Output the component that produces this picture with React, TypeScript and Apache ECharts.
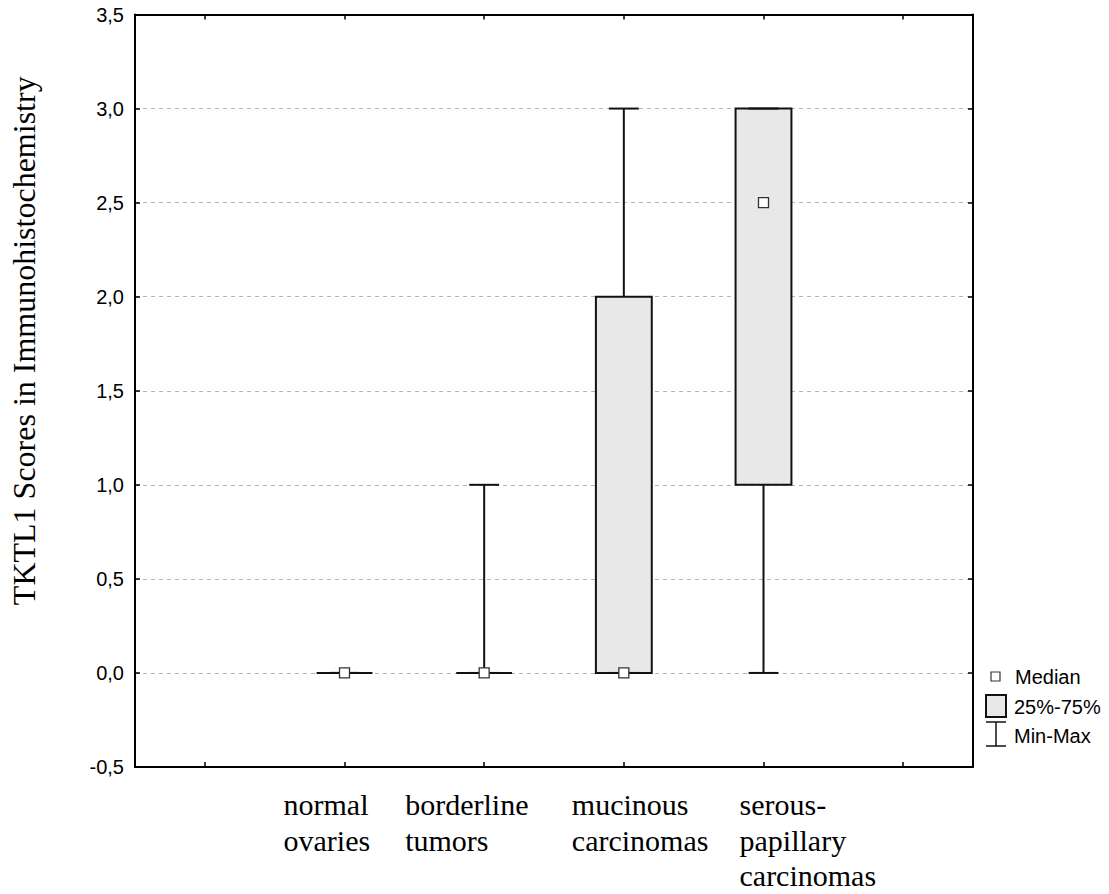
import React, { useEffect, useRef } from "react";
import * as echarts from "echarts";

// ---- data ----
const categories = ["", "normal\novaries", "borderline\ntumors", "mucinous\ncarcinomas", "serous-\npapillary\ncarcinomas", ""];
const groupIndex = [1, 2, 3, 4];
const minValues = [0, 0, 0, 0];
const q1Values = [0, 0, 0, 1];
const medianValues = [0, 0, 0, 2.5];
const q3Values = [0, 0, 2, 3];
const maxValues = [0, 1, 3, 3];
const yMin = -0.5;
const yMax = 3.5;
const yStep = 0.5;
const legendLabels = ["Median", "25%-75%", "Min-Max"];
const yTitle = "TKTL1 Scores in Immunohistochemistry";

// label block widths (layout) per category key
const richKeys = ["e0", "c1", "c2", "c3", "c4", "e5"];
const richWidths = [10, 122, 158, 104, 48, 10];

export default function App() {
  const ref = useRef<HTMLDivElement>(null);
  useEffect(() => {
    if (!ref.current) return;
    const chart = echarts.init(ref.current, null, { renderer: "svg" });
    const boxData = groupIndex.map((g, i) => [g, minValues[i], q1Values[i], medianValues[i], q3Values[i], maxValues[i]]);

    const rich: any = {};
    richKeys.forEach((k, i) => {
      rich[k] = {
        width: richWidths[i],
        align: "left",
        fontFamily: "Liberation Serif",
        fontSize: 30,
        lineHeight: 35.5,
        color: "#000",
      };
    });

    const serif = "Liberation Serif";
    const sans = "Liberation Sans";

    const axisLineStyle = { show: true, onZero: false, lineStyle: { color: "#000", width: 2 } };

    const option: any = {
      animation: false,
      backgroundColor: "#fff",
      grid: { left: 133, right: 136, top: 14.5, bottom: 127, containLabel: false },
      xAxis: [
        {
          type: "category",
          data: categories,
          position: "bottom",
          boundaryGap: true,
          axisLine: axisLineStyle,
          axisTick: { show: true, inside: true, alignWithLabel: true, length: 5, lineStyle: { color: "#000", width: 1.5 } },
          axisLabel: {
            interval: 0,
            margin: 20,
            hideOverlap: false,
            formatter: (val: string, idx: number) => {
              if (!val) return "";
              const k = richKeys[idx];
              return val.split("\n").map((s) => `{${k}|${s}}`).join("\n");
            },
            rich,
          },
          splitLine: { show: false },
        },
        {
          type: "category",
          data: categories,
          position: "top",
          boundaryGap: true,
          axisLine: axisLineStyle,
          axisTick: { show: true, inside: true, alignWithLabel: true, length: 5, lineStyle: { color: "#000", width: 1.5 } },
          axisLabel: { show: false },
          splitLine: { show: false },
        },
      ],
      yAxis: [
        {
          type: "value",
          min: yMin,
          max: yMax,
          interval: yStep,
          position: "left",
          name: yTitle,
          nameLocation: "middle",
          nameGap: 95,
          nameRotate: 90,
          nameTextStyle: { fontFamily: serif, fontSize: 32, color: "#000", padding: [0, 0, 0, 100] },
          axisLine: axisLineStyle,
          axisTick: { show: true, inside: true, length: 5, lineStyle: { color: "#000", width: 1.5 } },
          axisLabel: {
            margin: 11,
            fontFamily: sans,
            fontSize: 20,
            color: "#000",
            formatter: (v: number) => v.toFixed(1).replace(".", ","),
          },
          splitLine: { show: true, lineStyle: { color: "#b4b4b4", type: [4, 4], width: 1 } },
        },
        {
          type: "value",
          min: yMin,
          max: yMax,
          interval: yStep,
          position: "right",
          axisLine: axisLineStyle,
          axisTick: { show: true, inside: true, length: 5, lineStyle: { color: "#000", width: 1.5 } },
          axisLabel: { show: false },
          splitLine: { show: false },
        },
      ],
      series: [
        {
          type: "custom",
          xAxisIndex: 0,
          yAxisIndex: 0,
          data: boxData,
          encode: { x: 0, y: [1, 2, 3, 4, 5] },
          renderItem: (params: any, api: any) => {
            const x = api.value(0);
            const pMin = api.coord([x, api.value(1)]);
            const pQ1 = api.coord([x, api.value(2)]);
            const pMed = api.coord([x, api.value(3)]);
            const pQ3 = api.coord([x, api.value(4)]);
            const pMax = api.coord([x, api.value(5)]);
            const band = api.size([1, 0])[0];
            const boxW = band * 0.4;
            const capW = band * 0.214;
            const cx = pMin[0];
            const stroke = { stroke: "#111", lineWidth: 2, fill: null };
            return {
              type: "group",
              children: [
                { type: "line", shape: { x1: cx, y1: pMin[1], x2: cx, y2: pMax[1] }, style: stroke },
                {
                  type: "polygon",
                  shape: {
                    points: [
                      [cx - boxW / 2, pQ3[1]],
                      [cx + boxW / 2, pQ3[1]],
                      [cx + boxW / 2, pQ1[1]],
                      [cx - boxW / 2, pQ1[1]],
                    ],
                  },
                  style: { fill: "#e8e8e8", stroke: "#111", lineWidth: 2 },
                },
                { type: "line", shape: { x1: cx - capW / 2, y1: pMin[1], x2: cx + capW / 2, y2: pMin[1] }, style: stroke },
                { type: "line", shape: { x1: cx - capW / 2, y1: pMax[1], x2: cx + capW / 2, y2: pMax[1] }, style: stroke },
                {
                  type: "rect",
                  shape: { x: cx - 5, y: pMed[1] - 5, width: 10, height: 10 },
                  style: { fill: "#fff", stroke: "#333", lineWidth: 1.3 },
                },
              ],
            };
          },
        },
      ],
      graphic: [
        { type: "rect", shape: { x: 991, y: 672, width: 9, height: 9 }, style: { fill: "#fff", stroke: "#333", lineWidth: 1.2 } },
        { type: "text", x: 1015, y: 677, style: { text: legendLabels[0], font: `20px ${sans}`, fill: "#000", verticalAlign: "middle" } },
        { type: "rect", shape: { x: 986, y: 695, width: 20, height: 22 }, style: { fill: "#e8e8e8", stroke: "#111", lineWidth: 2 } },
        { type: "text", x: 1014, y: 707, style: { text: legendLabels[1], font: `20px ${sans}`, fill: "#000", verticalAlign: "middle" } },
        { type: "line", shape: { x1: 986, y1: 722, x2: 1006, y2: 722 }, style: { stroke: "#111", lineWidth: 1.5 } },
        { type: "line", shape: { x1: 996, y1: 722, x2: 996, y2: 746 }, style: { stroke: "#111", lineWidth: 1.5 } },
        { type: "line", shape: { x1: 986, y1: 746, x2: 1006, y2: 746 }, style: { stroke: "#111", lineWidth: 1.5 } },
        { type: "text", x: 1014, y: 736, style: { text: legendLabels[2], font: `20px ${sans}`, fill: "#000", verticalAlign: "middle" } },
      ],
    };
    chart.setOption(option);
    return () => chart.dispose();
  }, []);
  return <div ref={ref} style={{ position: "absolute", left: 0, top: 0, width: 1109, height: 894 }} />;
}
